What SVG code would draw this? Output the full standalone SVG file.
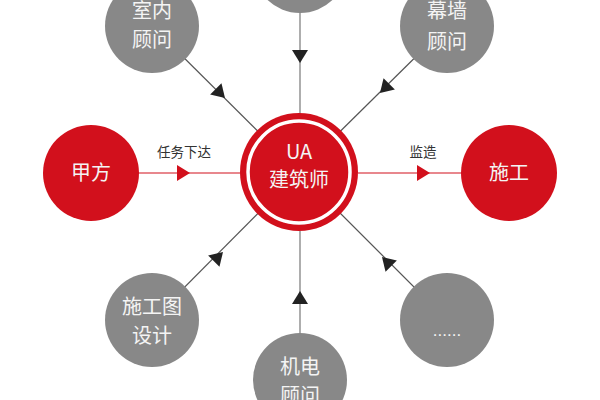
<svg xmlns="http://www.w3.org/2000/svg" width="600" height="400" viewBox="0 0 600 400">
<style>
.gray{fill:#888888}
.red{fill:#d2101c}
.t{font-family:"Noto Sans CJK SC","Liberation Sans",sans-serif;font-size:20px;text-anchor:middle;fill:#f4f4f4}
.lbl{font-family:"Noto Sans CJK SC","Liberation Sans",sans-serif;font-size:13.5px;text-anchor:middle;fill:#333}
.ld{stroke:#555;stroke-width:1.2;fill:none}
.lv{stroke:#777;stroke-width:1.2;fill:none}
.lr{stroke:#d2101c;stroke-width:1.2;fill:none}
</style>
<defs>
<path id="ah" d="M0,0 L-13,-8 L-13,8 Z"/>
</defs>
<rect width="600" height="400" fill="#ffffff"/>
<g id="connectors">
<line class="lv" x1="300" y1="12" x2="300" y2="114"/>
<line class="lv" x1="300" y1="231" x2="300" y2="333"/>
<line class="ld" x1="152" y1="26" x2="299" y2="172"/>
<line class="ld" x1="447" y1="26" x2="299" y2="172"/>
<line class="ld" x1="152" y1="320" x2="299" y2="172"/>
<line class="ld" x1="447" y1="320" x2="299" y2="172"/>
<line class="lr" x1="138" y1="173" x2="241" y2="173"/>
<line class="lr" x1="358" y1="173" x2="462" y2="173"/>
<use href="#ah" fill="#222" transform="translate(300,63) rotate(90)"/>
<use href="#ah" fill="#222" transform="translate(225,98) rotate(45)"/>
<use href="#ah" fill="#222" transform="translate(380,93) rotate(135)"/>
<use href="#ah" fill="#222" transform="translate(300,291) rotate(-90)"/>
<use href="#ah" fill="#222" transform="translate(223,252) rotate(-45)"/>
<use href="#ah" fill="#222" transform="translate(382,257) rotate(-135)"/>
<use href="#ah" fill="#d2101c" transform="translate(190,173)"/>
<use href="#ah" fill="#d2101c" transform="translate(430,173)"/>
<text class="lbl" x="184" y="157">任务下达</text>
<text class="lbl" x="423" y="157">监造</text>
</g>
<g id="top">
<circle class="gray" cx="300" cy="-34" r="47"/>
</g>
<g id="interior">
<circle class="gray" cx="152" cy="26" r="47"/>
<text class="t" x="152" y="18">室内</text>
<text class="t" x="152" y="47">顾问</text>
</g>
<g id="curtainwall">
<circle class="gray" cx="447" cy="26" r="47"/>
<text class="t" x="447" y="18">幕墙</text>
<text class="t" x="447" y="49">顾问</text>
</g>
<g id="client">
<circle class="red" cx="91" cy="173" r="48"/>
<text class="t" x="91" y="180">甲方</text>
</g>
<g id="construction">
<circle class="red" cx="509" cy="173" r="48"/>
<text class="t" x="509" y="180">施工</text>
</g>
<g id="center">
<circle class="red" cx="299" cy="172" r="59"/>
<circle cx="299" cy="172" r="51" fill="none" stroke="#ffffff" stroke-width="3.5"/>
<text class="t" x="299" y="159">UA</text>
<text class="t" x="299" y="187">建筑师</text>
</g>
<g id="drawing">
<circle class="gray" cx="152" cy="320" r="47"/>
<text class="t" x="152" y="314">施工图</text>
<text class="t" x="152" y="343">设计</text>
</g>
<g id="mep">
<circle class="gray" cx="300" cy="380" r="47"/>
<text class="t" x="300" y="374">机电</text>
<text class="t" x="300" y="403">顾问</text>
</g>
<g id="more">
<circle class="gray" cx="447" cy="320" r="47"/>
<text class="t" x="447" y="336" style="font-size:17px;font-family:'Liberation Sans',sans-serif">......</text>
</g>
</svg>
